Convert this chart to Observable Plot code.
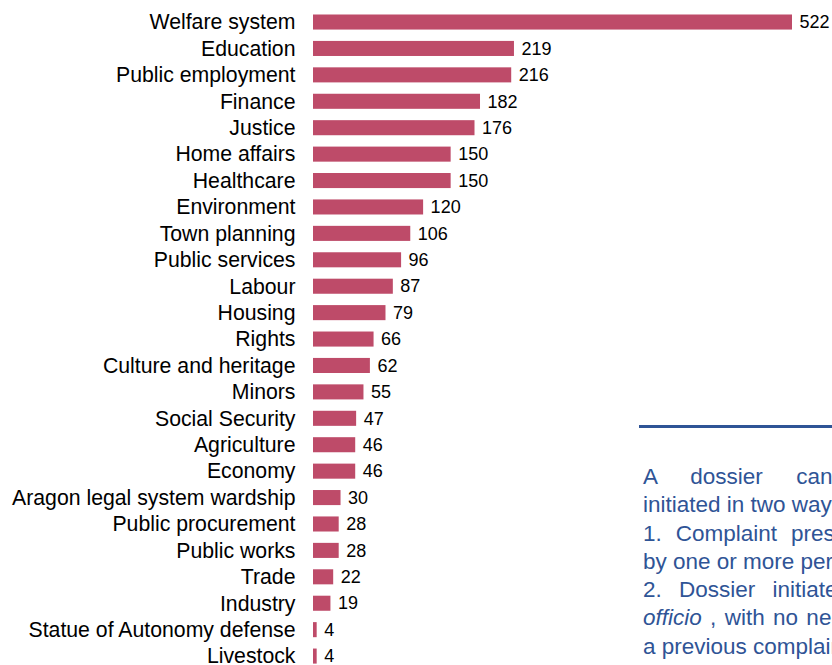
<!DOCTYPE html>
<html>
<head>
<meta charset="utf-8">
<script src="https://cdn.jsdelivr.net/npm/d3@7"></script>
<script src="https://cdn.jsdelivr.net/npm/@observablehq/plot@0.6"></script>
<style>
  html, body { margin: 0; padding: 0; background: #fff; overflow: hidden; }
  #wrap { position: relative; width: 832px; height: 665px; overflow: hidden; }
  #chart svg { display: block; }
  #rule { position: absolute; left: 639px; top: 425px; width: 260px; height: 3px; background: #2F5496; }
  #note { position: absolute; left: 643px; top: 463px; width: 248px; font-family: "Liberation Sans", Arial, sans-serif;
          font-size: 22.5px; line-height: 28.3px; color: #2F5496; }
  #note .j { display: block; text-align: justify; text-align-last: justify; white-space: nowrap; }
  #note .l { display: block; white-space: nowrap; }
</style>
</head>
<body>
<div id="wrap">
  <div id="chart"></div>
  <div id="rule"></div>
  <div id="note">
    <span class="j">A dossier can be</span>
    <span class="l">initiated in two ways:</span>
    <span class="j">1. Complaint presented</span>
    <span class="l">by one or more persons.</span>
    <span class="j">2. Dossier initiated <i>ex</i></span>
    <span class="j"><i>officio</i> , with no need for</span>
    <span class="l">a previous complaint.</span>
  </div>
</div>
<script>
const categories = ["Welfare system","Education","Public employment","Finance","Justice","Home affairs","Healthcare","Environment","Town planning","Public services","Labour","Housing","Rights","Culture and heritage","Minors","Social Security","Agriculture","Economy","Aragon legal system wardship","Public procurement","Public works","Trade","Industry","Statue of Autonomy defense","Livestock"];
const values = [522,219,216,182,176,150,150,120,106,96,87,79,66,62,55,47,46,46,30,28,28,22,19,4,4];

const data = categories.map((c, i) => ({category: c, value: values[i]}));

const chart = Plot.plot({
  width: 832,
  height: 665,
  marginLeft: 313,
  marginRight: 40,
  marginTop: 14.5,
  marginBottom: 1.4,
  style: {fontFamily: "'Liberation Sans', Arial, sans-serif", background: "#fff", overflow: "visible"},
  x: {domain: [0, 522], axis: null},
  y: {domain: categories, paddingInner: 0.43, paddingOuter: 0, round: false, label: null},
  marks: [
    Plot.barX(data, {x: "value", y: "category", fill: "#BE4B69"}),
    Plot.text(data, {x: "value", y: "category", text: d => String(d.value), textAnchor: "start", dx: 7, fontSize: 18, fill: "#000"}),
    Plot.axisY({tickSize: 0, tickPadding: 18, fontSize: 21.25, label: null, color: "#000"})
  ]
});
document.getElementById("chart").appendChild(chart);
</script>
</body>
</html>
